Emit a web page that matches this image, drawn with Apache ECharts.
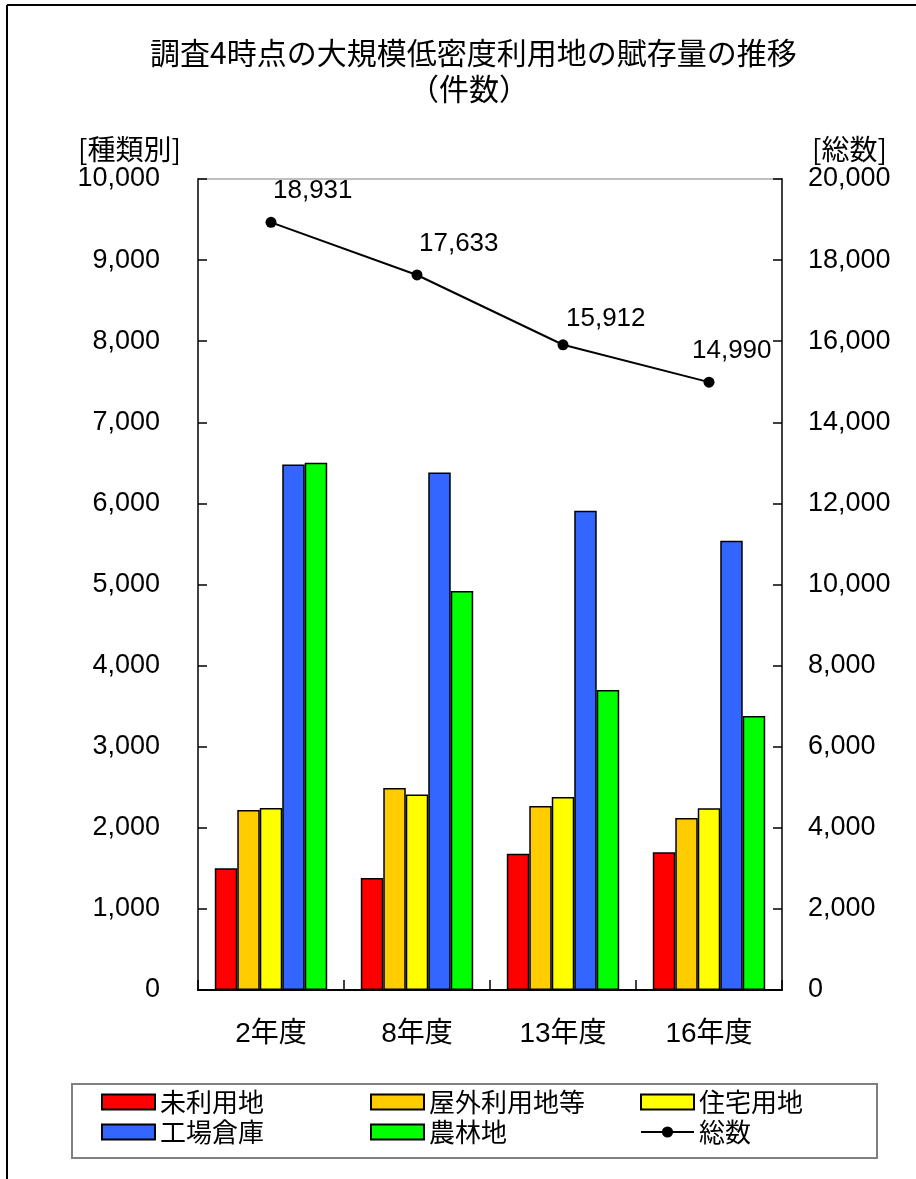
<!DOCTYPE html>
<html>
<head>
<meta charset="utf-8">
<script src="https://cdn.jsdelivr.net/npm/echarts@6/dist/echarts.min.js"></script>
<style>
  html, body { margin: 0; padding: 0; background: #fff; }
  #chart { width: 916px; height: 1179px; }
</style>
</head>
<body>
<div id="chart"></div>
<script>
// Survey years and counts of large low-density land uses
const categories = ['2年度', '8年度', '13年度', '16年度'];
const unusedLand = [1500, 1380, 1680, 1700];      // 未利用地
const outdoorUse = [2220, 2490, 2270, 2120];      // 屋外利用地等
const residential = [2245, 2410, 2380, 2240];     // 住宅用地
const factoryWarehouse = [6480, 6380, 5910, 5540];// 工場倉庫
const farmForest = [6500, 4920, 3700, 3380];      // 農林地
const totals = [18931, 17633, 15912, 14990];      // 総数
const leftTicks = { min: 0, max: 10000, interval: 1000 };
const rightTicks = { min: 0, max: 20000, interval: 2000 };

const NUM_FONT = '"Liberation Sans", Arial, "Noto Sans CJK JP", sans-serif';
const JP_FONT = '"Noto Sans CJK JP", "Liberation Sans", sans-serif';
const fmt = v => Number(v).toLocaleString('en-US');

const chart = echarts.init(document.getElementById('chart'), null, { renderer: 'canvas' });

function barSeries(name, data, color) {
  return {
    name, type: 'bar', data, yAxisIndex: 0,
    barGap: '0%', barCategoryGap: '23%',
    itemStyle: { color, borderColor: '#000', borderWidth: 1.5 },
    emphasis: { disabled: true }
  };
}

function legendAt(name, left, top, isLine) {
  const l = {
    data: [name], left, top, padding: 0, itemGap: 0,
    itemWidth: 53, itemHeight: isLine ? 14 : 15,
    textStyle: { fontSize: 26, fontFamily: JP_FONT, color: '#000' },
    selectedMode: false
  };
  if (!isLine) {
    l.icon = 'rect';
    l.itemStyle = { borderColor: '#000', borderWidth: 2 };
  }
  return l;
}

// per-point label nudges so the value labels clear the line and the right axis
const labelNudge = [[2, 0], [2, 0], [3, 6], [-17, 0]];
const totalData = totals.map((v, i) => ({ value: v, label: { offset: labelNudge[i] } }));

const option = {
  backgroundColor: '#fff',
  animation: false,
  title: [
    {
      text: '調査4時点の大規模低密度利用地の賦存量の推移',
      left: 145, top: 33,
      textStyle: { fontSize: 30, fontWeight: 'normal', fontFamily: JP_FONT, color: '#000' }
    },
    {
      text: '（件数）',
      left: 404, top: 69,
      textStyle: { fontSize: 30, fontWeight: 'normal', fontFamily: JP_FONT, color: '#000' }
    }
  ],
  grid: {
    left: 198, right: 134, top: 179, bottom: 189,
    show: true, borderColor: '#808080', borderWidth: 1, backgroundColor: 'transparent'
  },
  legend: [
    legendAt('未利用地', 101, 1089, false),
    legendAt('屋外利用地等', 370, 1089, false),
    legendAt('住宅用地', 640, 1089, false),
    legendAt('工場倉庫', 101, 1119, false),
    legendAt('農林地', 370, 1119, false),
    legendAt('総数', 640, 1119, true)
  ],
  xAxis: {
    type: 'category', data: categories, boundaryGap: true,
    axisLine: { lineStyle: { color: '#000', width: 2 } },
    axisTick: { show: true, inside: true, length: 10, lineStyle: { color: '#000', width: 1.5 } },
    axisLabel: { fontSize: 28, fontFamily: NUM_FONT, color: '#000', margin: 30 },
    splitLine: { show: false }
  },
  yAxis: [
    {
      type: 'value', position: 'left', ...leftTicks,
      name: '[種類別]', nameLocation: 'end', nameGap: 16,
      nameTextStyle: { fontSize: 28, fontFamily: JP_FONT, color: '#000', align: 'right', padding: [0, 17, 0, 0] },
      axisLine: { show: true, lineStyle: { color: '#404040', width: 2 } },
      axisTick: { show: true, inside: true, length: 9, lineStyle: { color: '#000', width: 1.5 } },
      axisLabel: { fontSize: 27, fontFamily: NUM_FONT, color: '#000', margin: 38, formatter: fmt },
      splitLine: { show: false }
    },
    {
      type: 'value', position: 'right', ...rightTicks,
      name: '[総数]', nameLocation: 'end', nameGap: 16,
      nameTextStyle: { fontSize: 28, fontFamily: JP_FONT, color: '#000', align: 'left', padding: [0, 0, 0, 30] },
      axisLine: { show: true, lineStyle: { color: '#404040', width: 2 } },
      axisTick: { show: true, inside: true, length: 9, lineStyle: { color: '#000', width: 1.5 } },
      axisLabel: { fontSize: 27, fontFamily: NUM_FONT, color: '#000', margin: 26, formatter: fmt },
      splitLine: { show: false }
    }
  ],
  series: [
    barSeries('未利用地', unusedLand, '#FF0000'),
    barSeries('屋外利用地等', outdoorUse, '#FFCC00'),
    barSeries('住宅用地', residential, '#FFFF00'),
    barSeries('工場倉庫', factoryWarehouse, '#3366FF'),
    barSeries('農林地', farmForest, '#00FF00'),
    {
      name: '総数', type: 'line', yAxisIndex: 1, data: totalData, z: 5,
      symbol: 'circle', symbolSize: 11,
      lineStyle: { color: '#000', width: 2 },
      itemStyle: { color: '#000' },
      label: {
        show: true, position: 'top', distance: 13, align: 'left',
        fontSize: 26, fontFamily: NUM_FONT, color: '#000', formatter: p => fmt(p.value)
      },
      emphasis: { disabled: true }
    }
  ],
  graphic: [
    // outer frame (top and left edges)
    { type: 'line', shape: { x1: 7, y1: 5, x2: 916, y2: 5 }, style: { stroke: '#000', lineWidth: 2 } },
    { type: 'line', shape: { x1: 7, y1: 5, x2: 7, y2: 1179 }, style: { stroke: '#000', lineWidth: 2 } },
    // legend frame
    { type: 'rect', shape: { x: 72, y: 1084, width: 805, height: 74 }, style: { fill: 'none', stroke: '#808080', lineWidth: 2 }, z: -1 }
  ]
};

chart.setOption(option);
</script>
</body>
</html>
